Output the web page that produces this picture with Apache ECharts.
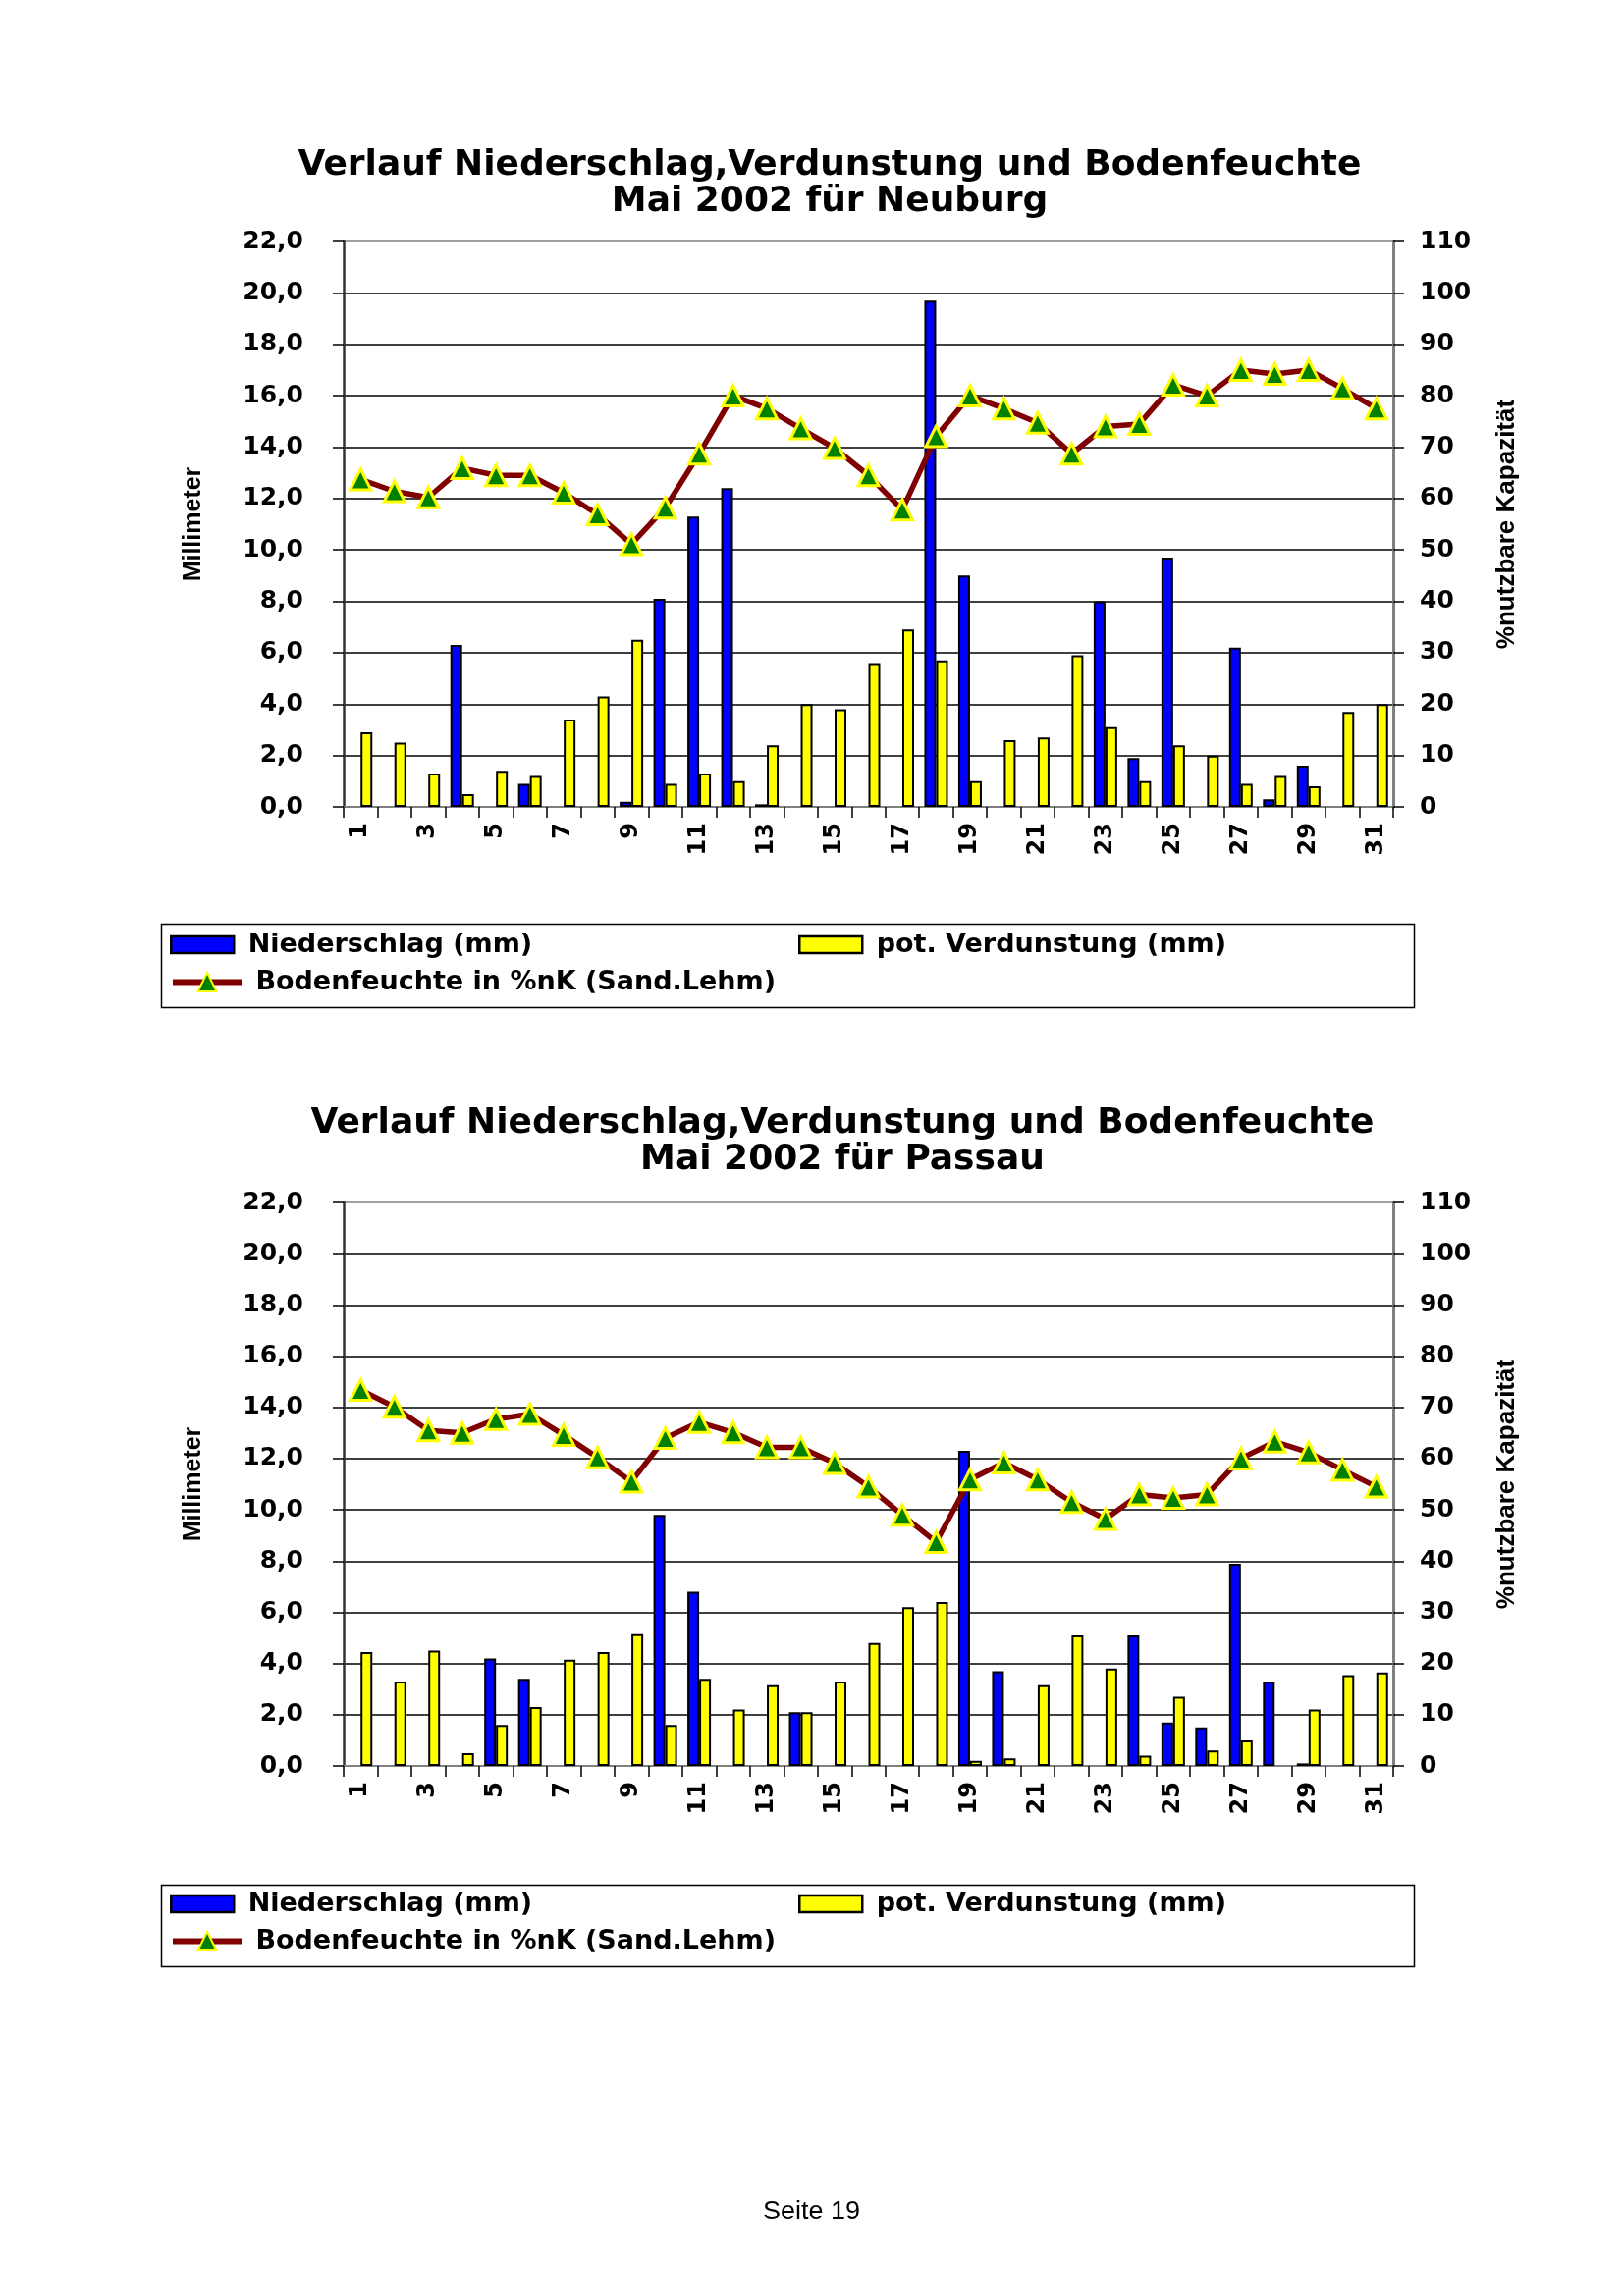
<!DOCTYPE html>
<html>
<head>
<meta charset="utf-8">
<script src="https://cdn.jsdelivr.net/npm/echarts@6/dist/echarts.min.js"></script>
<style>
html,body{margin:0;padding:0;background:#fff;}
#c{width:1653px;height:2339px;}
</style>
</head>
<body>
<div id="c"></div>
<script>
const days = ['1','2','3','4','5','6','7','8','9','10','11','12','13','14','15','16','17','18','19','20','21','22','23','24','25','26','27','28','29','30','31'];
const mmTicks = ['0,0','2,0','4,0','6,0','8,0','10,0','12,0','14,0','16,0','18,0','20,0','22,0'];

const neuburgNiederschlag = [0,0,0,6.3,0,0.9,0,0,0.2,8.1,11.3,12.4,0.1,0,0,0,0,19.7,9.0,0,0,0,8.0,1.9,9.7,0,6.2,0.3,1.6,0,0];
const neuburgVerdunstung = [2.9,2.5,1.3,0.5,1.4,1.2,3.4,4.3,6.5,0.9,1.3,1.0,2.4,4.0,3.8,5.6,6.9,5.7,1.0,2.6,2.7,5.9,3.1,1.0,2.4,2.0,0.9,1.2,0.8,3.7,4.0];
const neuburgBoden = [63.7,61.4,60.2,65.9,64.5,64.5,61.1,56.9,51.1,58.2,68.7,80.0,77.5,73.6,69.8,64.5,57.8,72.1,80.0,77.5,74.7,68.7,74.0,74.5,82.1,80.0,85.0,84.2,85.0,81.4,77.5];

const passauNiederschlag = [0,0,0,0,4.2,3.4,0,0,0,9.8,6.8,0,0,2.1,0,0,0,0,12.3,3.7,0,0,0,5.1,1.7,1.5,7.9,3.3,0.1,0,0];
const passauVerdunstung = [4.45,3.3,4.5,0.5,1.6,2.3,4.15,4.45,5.15,1.6,3.4,2.2,3.15,2.1,3.3,4.8,6.2,6.4,0.2,0.3,3.15,5.1,3.8,0.4,2.7,0.6,1.0,0,2.2,3.55,3.65];
const passauBoden = [73.4,70.1,65.5,65.0,67.7,68.7,64.6,60.2,55.5,64.0,67.1,65.1,62.2,62.2,59.1,54.5,49.0,43.7,55.9,59.2,55.9,51.5,48.2,53.0,52.3,53.0,60.0,63.3,61.2,57.8,54.5];

const titles = [
  'Verlauf Niederschlag,Verdunstung und Bodenfeuchte\nMai 2002 für Neuburg',
  'Verlauf Niederschlag,Verdunstung und Bodenfeuchte\nMai 2002 für Passau'
];
const names = ['Niederschlag (mm)','pot. Verdunstung (mm)','Bodenfeuchte in %nK (Sand.Lehm)'];

const chart = echarts.init(document.getElementById('c'));
const BOLD = 'DejaVu Sans';
const layouts = [
  {gridTop:246, gridH:576, titleTop:150, titleX:845, row1:949, row2:990, boxY:939, boxH:85},
  {gridTop:1225, gridH:574, titleTop:1126, titleX:858, row1:1926, row2:1967, boxY:1918, boxH:83}
];
const nz = a => a.map(v => v === 0 ? '-' : v);

const option = {
  backgroundColor:'#fff',
  animation:false,
  title:[], grid:[], xAxis:[], yAxis:[], series:[], legend:[], graphic:[]
};
const datasets = [
  [neuburgNiederschlag, neuburgVerdunstung, neuburgBoden],
  [passauNiederschlag, passauVerdunstung, passauBoden]
];
const splitColors = ['#000','#000','#000','#000','#000','#000','#000','#000','#000','#000','#000','#808080'];

layouts.forEach((L, i) => {
  option.title.push({
    text: titles[i], left: L.titleX, top: L.titleTop, textAlign:'center', padding:0,
    textStyle:{fontFamily:BOLD, fontWeight:'bold', fontSize:36, lineHeight:37, color:'#000'}
  });
  option.grid.push({left:350, top:L.gridTop, width:1069, height:L.gridH, containLabel:false});
  option.xAxis.push({
    type:'category', gridIndex:i, data:days, boundaryGap:true,
    axisLine:{show:true, lineStyle:{color:'#808080', width:2}},
    axisTick:{show:true, interval:0, length:11, alignWithLabel:false, lineStyle:{color:'#000', width:1.5}},
    axisLabel:{interval:1, rotate:90, margin:16, color:'#000', fontFamily:BOLD, fontWeight:'bold', fontSize:24},
    splitLine:{show:false}
  });
  option.yAxis.push({
    type:'value', gridIndex:i, position:'left', min:0, max:22, interval:2,
    name:'Millimeter', nameLocation:'middle', nameRotate:90, nameGap:140,
    nameTextStyle:{fontFamily:'Liberation Sans', fontWeight:'bold', fontSize:25, color:'#000'},
    axisLine:{show:true, lineStyle:{color:'#333', width:2.5}},
    axisTick:{show:true, length:11, lineStyle:{color:'#000', width:1.5}},
    axisLabel:{margin:41, color:'#000', fontFamily:BOLD, fontWeight:'bold', fontSize:25,
      formatter:(v)=>mmTicks[Math.round(v/2)]},
    splitLine:{show:true, lineStyle:{color:splitColors, width:1.5}}
  });
  option.yAxis.push({
    type:'value', gridIndex:i, position:'right', min:0, max:110, interval:10,
    name:'%nutzbare Kapazität', nameLocation:'middle', nameRotate:90, nameGap:103,
    nameTextStyle:{fontFamily:'Liberation Sans', fontWeight:'bold', fontSize:26, color:'#000'},
    axisLine:{show:true, lineStyle:{color:'#808080', width:3}},
    axisTick:{show:true, length:11, lineStyle:{color:'#000', width:1.5}},
    axisLabel:{margin:27, color:'#000', fontFamily:BOLD, fontWeight:'bold', fontSize:25},
    splitLine:{show:false}
  });
  const d = datasets[i];
  option.series.push({
    name:names[0], type:'bar', xAxisIndex:i, yAxisIndex:2*i, data:nz(d[0]),
    barWidth:12, barGap:'0%',
    itemStyle:{color:'#0000FF', borderColor:'#000', borderWidth:2}
  });
  option.series.push({
    name:names[1], type:'bar', xAxisIndex:i, yAxisIndex:2*i, data:nz(d[1]),
    barWidth:12, barGap:'0%',
    itemStyle:{color:'#FFFF00', borderColor:'#000', borderWidth:2}
  });
  option.series.push({
    name:names[2], type:'line', xAxisIndex:i, yAxisIndex:2*i+1, data:d[2],
    symbol:'triangle', symbolSize:21, showAllSymbol:true, z:5,
    lineStyle:{color:'#800000', width:5.5},
    itemStyle:{color:'#008000', borderColor:'#FFFF00', borderWidth:3}
  });
  const lt = {fontFamily:BOLD, fontWeight:'bold', fontSize:27, color:'#000'};
  const fmt = (n) => ' ' + n;
  option.legend.push({data:[names[0]], left:173, top:L.row1, padding:0, icon:'rect', itemWidth:64, itemHeight:17, itemGap:0, textStyle:lt, formatter:fmt, selectedMode:false,
    itemStyle:{borderColor:'#000', borderWidth:2.5}});
  option.legend.push({data:[names[1]], left:813, top:L.row1, padding:0, icon:'rect', itemWidth:64, itemHeight:17, itemGap:0, textStyle:lt, formatter:fmt, selectedMode:false,
    itemStyle:{borderColor:'#000', borderWidth:2.5}});
  option.legend.push({data:[names[2]], left:173, top:L.row2 - 3, padding:0, itemWidth:70, itemHeight:24, itemGap:0, textStyle:lt, formatter:fmt, selectedMode:false,
    lineStyle:{color:'#800000', width:6}});
  option.graphic.push({type:'rect', left:162, top:L.boxY, shape:{width:1276, height:L.boxH}, style:{fill:'none', stroke:'#000', lineWidth:1.5}, silent:true});
});
option.graphic.push({type:'text', left:'center', top:2240, style:{text:'Seite 19', fontFamily:'Liberation Sans', fontSize:27, fill:'#000'}, x:5});
chart.setOption(option);
</script>
</body>
</html>
